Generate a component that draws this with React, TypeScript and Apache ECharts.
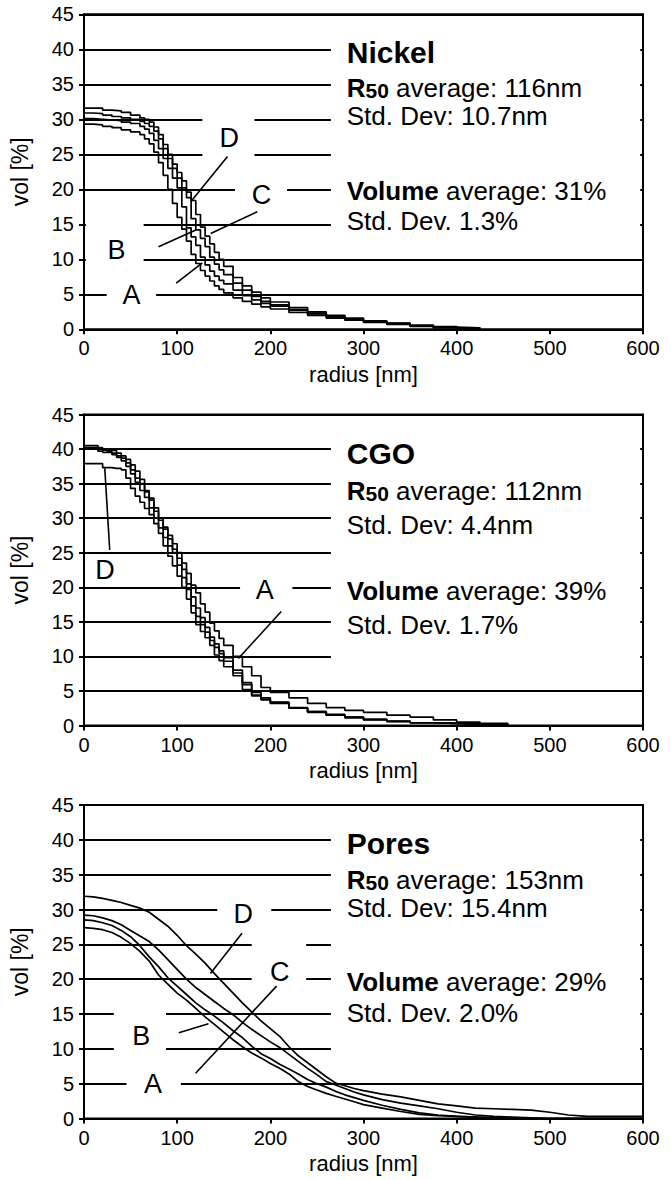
import React, { useEffect, useRef } from "react";
import * as echarts from "echarts";

// ---------- DATA ----------
const X_TICKS = [0, 100, 200, 300, 400, 500, 600];
const Y_TICKS = [0, 5, 10, 15, 20, 25, 30, 35, 40, 45];

// Nickel
const NICKEL_RADIUS = [0, 10, 20, 30, 40, 50, 60, 65, 70, 75, 80, 85, 90, 95, 100, 105, 110, 115, 120, 125, 130, 135, 140, 145, 150, 160, 170, 180, 190, 200, 220, 240, 260, 280, 300, 325, 350, 375, 400, 425];
const NICKEL_A = [29.3, 29.2, 29.0, 28.8, 28.5, 28.2, 27.8, 27.2, 26.5, 25.3, 23.8, 22.0, 20.0, 18.0, 16.0, 14.3, 12.6, 10.7, 9.4, 8.4, 7.6, 6.9, 6.2, 5.7, 5.2, 4.5, 4.0, 3.6, 3.2, 2.9, 2.4, 2.0, 1.6, 1.3, 1.0, 0.7, 0.4, 0.2, 0.1, 0];
const NICKEL_B = [30.1, 30.0, 29.9, 29.8, 29.6, 29.4, 29.0, 28.6, 28.0, 27.0, 25.8, 24.4, 23.0, 21.6, 20.2, 17.5, 14.5, 13.2, 12.0, 10.3, 9.2, 8.3, 7.6, 7.0, 6.5, 5.6, 4.8, 4.2, 3.7, 3.3, 2.7, 2.2, 1.8, 1.4, 1.1, 0.8, 0.5, 0.3, 0.1, 0];
const NICKEL_C = [30.9, 30.8, 30.6, 30.4, 30.2, 30.0, 29.7, 29.4, 29.0, 28.3, 27.2, 25.8, 24.4, 23.0, 21.6, 20.2, 18.8, 15.8, 14.2, 13.0, 11.8, 10.3, 9.3, 8.5, 7.8, 6.6, 5.6, 4.7, 4.0, 3.5, 2.8, 2.3, 1.8, 1.4, 1.1, 0.8, 0.5, 0.3, 0.2, 0];
const NICKEL_D = [31.6, 31.6, 31.3, 31.2, 31.0, 30.6, 30.2, 30.0, 29.6, 28.9, 27.8, 26.4, 25.0, 23.6, 22.4, 21.2, 19.6, 18.4, 16.4, 14.6, 13.3, 12.2, 11.0, 10.0, 9.0, 7.4, 6.2, 5.3, 4.5, 3.9, 3.1, 2.5, 2.0, 1.6, 1.2, 0.9, 0.6, 0.4, 0.2, 0];

// CGO
const CGO_RADIUS = [0, 10, 15, 20, 25, 30, 35, 40, 45, 50, 55, 60, 65, 70, 75, 80, 85, 90, 95, 100, 105, 110, 115, 120, 125, 130, 135, 140, 145, 150, 160, 170, 180, 190, 200, 220, 240, 260, 280, 300, 325, 350, 375, 400, 425, 455];
const CGO_A = [40.2, 40.2, 40.0, 39.8, 39.8, 39.8, 39.4, 39.0, 38.5, 37.7, 36.8, 35.6, 34.0, 32.9, 31.5, 30.0, 28.7, 27.5, 26.3, 25.0, 23.5, 22.0, 20.3, 19.2, 17.6, 16.4, 14.8, 13.7, 12.6, 11.6, 10.0, 8.5, 7.2, 5.5, 4.8, 4.0, 3.2, 2.6, 2.2, 1.9, 1.5, 1.2, 0.8, 0.5, 0.3, 0];
const CGO_B = [40.0, 40.0, 39.7, 39.5, 39.5, 39.2, 38.8, 38.3, 37.5, 36.4, 35.2, 34.0, 33.0, 31.5, 30.0, 28.6, 27.2, 26.0, 25.0, 23.2, 21.4, 19.7, 17.3, 15.8, 14.6, 13.5, 12.3, 11.3, 10.4, 9.3, 7.6, 5.9, 4.4, 3.8, 3.3, 2.5, 2.0, 1.5, 1.2, 0.9, 0.6, 0.4, 0.3, 0.2, 0.1, 0];
const CGO_C = [40.5, 40.5, 40.2, 40.0, 39.6, 39.4, 39.0, 38.7, 38.0, 37.0, 35.8, 35.0, 33.8, 32.6, 31.0, 29.7, 28.4, 27.0, 25.5, 24.2, 22.6, 20.5, 18.6, 17.0, 15.6, 14.2, 12.8, 11.8, 10.8, 9.8, 8.0, 6.2, 4.8, 4.0, 3.4, 2.6, 2.0, 1.6, 1.2, 0.9, 0.6, 0.4, 0.3, 0.2, 0.1, 0];
const CGO_D = [37.9, 37.9, 37.9, 37.3, 37.3, 37.2, 37.2, 37.0, 35.8, 34.3, 33.2, 32.3, 31.4, 30.5, 29.2, 27.8, 26.0, 24.5, 23.1, 21.6, 20.0, 18.3, 16.3, 14.6, 13.6, 12.7, 11.6, 10.2, 9.4, 8.5, 7.2, 5.2, 4.3, 3.7, 3.2, 2.5, 1.9, 1.5, 1.1, 0.8, 0.6, 0.4, 0.3, 0.2, 0.1, 0];

// Pores
const PORES_RADIUS = [0, 10, 20, 30, 40, 50, 60, 70, 80, 90, 100, 110, 120, 130, 140, 150, 160, 170, 180, 190, 200, 210, 220, 230, 240, 250, 260, 270, 280, 290, 300, 320, 340, 360, 380, 400, 420, 440, 460, 480, 500, 520, 540, 560, 580, 600];
const PORES_A = [27.4, 27.3, 27.1, 26.7, 26.0, 25.1, 24.0, 22.6, 20.6, 19.3, 18.0, 17.0, 15.8, 14.6, 13.5, 12.4, 11.3, 10.3, 9.4, 8.7, 7.9, 7.2, 6.4, 5.3, 4.6, 4.1, 3.6, 3.2, 2.8, 2.4, 2.0, 1.5, 1.0, 0.6, 0.4, 0.3, 0.2, 0.1, 0, 0, 0, 0, 0, 0, 0, 0];
const PORES_B = [28.5, 28.4, 28.1, 27.7, 27.0, 26.1, 24.8, 23.2, 21.8, 20.2, 19.0, 17.8, 16.6, 15.6, 14.7, 13.7, 12.6, 11.6, 10.4, 9.3, 8.6, 7.8, 7.1, 6.4, 5.6, 5.0, 4.5, 3.9, 3.4, 3.0, 2.6, 1.9, 1.3, 0.8, 0.5, 0.3, 0.2, 0.1, 0, 0, 0, 0, 0, 0, 0, 0];
const PORES_C = [29.2, 29.1, 28.8, 28.4, 27.8, 27.0, 26.2, 25.4, 24.2, 22.8, 21.4, 20.0, 18.8, 17.8, 16.8, 15.8, 14.9, 13.8, 12.8, 11.9, 11.0, 10.2, 9.2, 8.2, 7.2, 6.3, 5.3, 4.8, 4.3, 3.8, 3.4, 2.7, 2.2, 1.8, 1.4, 0.9, 0.5, 0.3, 0.2, 0.1, 0, 0, 0, 0, 0, 0];
const PORES_D = [31.9, 31.8, 31.6, 31.3, 31.0, 30.6, 30.2, 29.6, 28.6, 27.6, 26.3, 24.8, 23.6, 22.3, 20.8, 19.4, 18.0, 16.6, 15.3, 14.0, 12.9, 11.8, 10.3, 9.0, 8.0, 7.0, 6.0, 5.1, 4.7, 4.3, 4.0, 3.5, 3.1, 2.6, 2.1, 1.8, 1.5, 1.4, 1.3, 1.2, 0.9, 0.5, 0.3, 0.3, 0.3, 0.3];

// Panel texts
const TITLES = ["Nickel", "CGO", "Pores"];
const R50_AVERAGES = ["116nm", "112nm", "153nm"];
const R50_STDDEVS = ["10.7nm", "4.4nm", "15.4nm"];
const VOLUME_AVERAGES = ["31%", "39%", "29%"];
const VOLUME_STDDEVS = ["1.3%", "1.7%", "2.0%"];
const CURVE_NAMES = ["A", "B", "C", "D"];

const PANELS = [
  { radius: NICKEL_RADIUS, curves: [NICKEL_A, NICKEL_B, NICKEL_C, NICKEL_D], stepped: true },
  { radius: CGO_RADIUS, curves: [CGO_A, CGO_B, CGO_C, CGO_D], stepped: true },
  { radius: PORES_RADIUS, curves: [PORES_A, PORES_B, PORES_C, PORES_D], stepped: false },
];

// ---------- LAYOUT (annotation positions in data units) ----------
const LAYOUT = [
  {
    top: 14.3, height: 315,
    boxes: [[265, 597, 44.6, 12.5], [127, 183, 22.5, 32.5], [162, 218, 17.5, 22.4], [2, 64, 7.5, 17], [24.4, 77.4, 2.5, 7]],
    labels: [["D", 156, 27.3], ["C", 190.5, 19.2], ["B", 35, 11.4], ["A", 51, 4.9]],
    leaders: [[154, 24.7, 115, 18.3], [186, 16.8, 136, 13.7], [80, 11.8, 120, 14.2], [99, 6.6, 127, 9.5]],
    statsY: [39.5, 34.5, 30.5, 19.8, 15.5],
  },
  {
    top: 414.5, height: 311,
    boxes: [[265, 597, 44.6, 7.5], [167.5, 223.7, 17.5, 22.5]],
    labels: [["D", 22.6, 22.5], ["A", 194, 19.6]],
    leaders: [[27.6, 25.4, 22.3, 37.2], [211.7, 16.5, 165.7, 9.7]],
    statsY: [39.3, 33.9, 29.0, 19.5, 14.5],
  },
  {
    top: 805, height: 313.5,
    boxes: [[265, 597, 44.6, 7.5], [143, 201, 27.5, 32.5], [180, 238.5, 17.5, 27.4], [32, 88, 7.5, 17.5], [45.6, 104, 2.5, 7.4]],
    labels: [["D", 171, 29.3], ["C", 210, 21], ["B", 61.5, 11.9], ["A", 74, 5.0]],
    leaders: [[169.6, 26.6, 135.7, 20.8], [206.7, 19.0, 119.8, 6.5], [101.8, 12.3, 133.6, 13.6]],
    statsY: [39.5, 34.2, 30.2, 19.6, 15.2],
  },
];
const STATS_X = 282;

const FONT = "'Liberation Sans', Arial, Helvetica, sans-serif";

export default function App() {
  const ref = useRef<HTMLDivElement>(null);

  useEffect(() => {
    document.body.style.margin = "0";
    const chart = echarts.init(ref.current as HTMLDivElement, null, { renderer: "svg" });

    const grid = LAYOUT.map((l) => ({
      left: 77,
      width: 566,
      top: l.top,
      height: l.height,
      show: true,
      borderColor: "#000",
      borderWidth: 2,
      backgroundColor: "transparent",
    }));

    const xAxis = PANELS.map((_, i) => ({
      gridIndex: i,
      type: "value",
      min: X_TICKS[0],
      max: X_TICKS[X_TICKS.length - 1],
      interval: X_TICKS[1] - X_TICKS[0],
      axisLine: { show: true, onZero: false, lineStyle: { color: "#000", width: 2 } },
      axisTick: { show: true, length: 5, lineStyle: { color: "#000", width: 2 } },
      axisLabel: { color: "#000", fontSize: 20, fontFamily: FONT, margin: 9 },
      splitLine: { show: false },
      name: "radius [nm]",
      nameLocation: "middle",
      nameGap: 34,
      nameTextStyle: { color: "#000", fontSize: 22, fontFamily: FONT },
    }));

    const yAxis = PANELS.map((_, i) => ({
      gridIndex: i,
      type: "value",
      min: Y_TICKS[0],
      max: Y_TICKS[Y_TICKS.length - 1],
      interval: Y_TICKS[1] - Y_TICKS[0],
      axisLine: { show: true, onZero: false, lineStyle: { color: "#000", width: 2 } },
      axisTick: { show: true, length: 5, lineStyle: { color: "#000", width: 2 } },
      axisLabel: { color: "#000", fontSize: 20, fontFamily: FONT, margin: 10 },
      splitLine: { show: true, lineStyle: { color: "#000", width: 2 } },
      name: "vol [%]",
      nameLocation: "middle",
      nameRotate: 90,
      nameGap: 53,
      nameTextStyle: { color: "#000", fontSize: 23, fontFamily: FONT },
    }));

    const series: any[] = [];
    PANELS.forEach((p, i) => {
      p.curves.forEach((c, k) => {
        series.push({
          name: TITLES[i] + " " + CURVE_NAMES[k],
          type: "line",
          xAxisIndex: i,
          yAxisIndex: i,
          data: p.radius.map((r, j) => [r, c[j]]),
          step: p.stepped ? "end" : false,
          symbol: "none",
          showSymbol: false,
          lineStyle: { color: "#000", width: 1.7 },
          z: 3,
        });
      });
    });

    chart.setOption({ animation: false, grid, xAxis, yAxis, series });

    const px = (i: number, x: number, y: number) =>
      chart.convertToPixel({ gridIndex: i } as any, [x, y]) as unknown as number[];

    const textStyle = (size: number, weight: string) => ({
      fontSize: size,
      fontWeight: weight,
      fontFamily: FONT,
      fill: "#000",
      verticalAlign: "bottom",
    });

    const graphic: any[] = [];
    LAYOUT.forEach((l, i) => {
      l.boxes.forEach((b: any) => {
        const [x0, x1, y0, y1] = b as number[];
        const a = px(i, x0, Math.max(y0, y1));
        const c = px(i, x1, Math.min(y0, y1));
        graphic.push({
          type: "rect",
          z: 1,
          silent: true,
          shape: { x: a[0], y: a[1], width: c[0] - a[0], height: c[1] - a[1] },
          style: { fill: "#fff", stroke: null },
        });
      });
      l.leaders.forEach((ln: any) => {
        const a = px(i, ln[0], ln[1]);
        const c = px(i, ln[2], ln[3]);
        graphic.push({
          type: "line",
          z: 10,
          silent: true,
          shape: { x1: a[0], y1: a[1], x2: c[0], y2: c[1] },
          style: { stroke: "#000", lineWidth: 1.6 },
        });
      });
      l.labels.forEach((lb: any) => {
        const p = px(i, lb[1], lb[2]);
        graphic.push({
          type: "text",
          z: 10,
          silent: true,
          x: p[0],
          y: p[1],
          style: {
            text: lb[0],
            fontSize: 27,
            fontFamily: FONT,
            fill: "#000",
            align: "center",
            verticalAlign: "middle",
            textAlign: "center",
            textVerticalAlign: "middle",
          },
        });
      });
      const lines = [
        "{t|" + TITLES[i] + "}",
        "{r|R}{s|50}{n| average: " + R50_AVERAGES[i] + "}",
        "{n|Std. Dev: " + R50_STDDEVS[i] + "}",
        "{b|Volume}{n| average: " + VOLUME_AVERAGES[i] + "}",
        "{n|Std. Dev. " + VOLUME_STDDEVS[i] + "}",
      ];
      lines.forEach((txt, k) => {
        const p = px(i, STATS_X, l.statsY[k]);
        graphic.push({
          type: "text",
          z: 10,
          silent: true,
          x: p[0],
          y: p[1],
          style: {
            text: txt,
            align: "left",
            verticalAlign: "middle",
            textAlign: "left",
            textVerticalAlign: "middle",
            fill: "#000",
            rich: {
              t: textStyle(30, "bold"),
              r: textStyle(26, "bold"),
              s: textStyle(21, "bold"),
              b: textStyle(26, "bold"),
              n: textStyle(26, "normal"),
            },
          },
        });
      });
    });

    chart.setOption({ graphic });

    return () => {
      chart.dispose();
    };
  }, []);

  return <div ref={ref} style={{ width: 671, height: 1180 }} />;
}
